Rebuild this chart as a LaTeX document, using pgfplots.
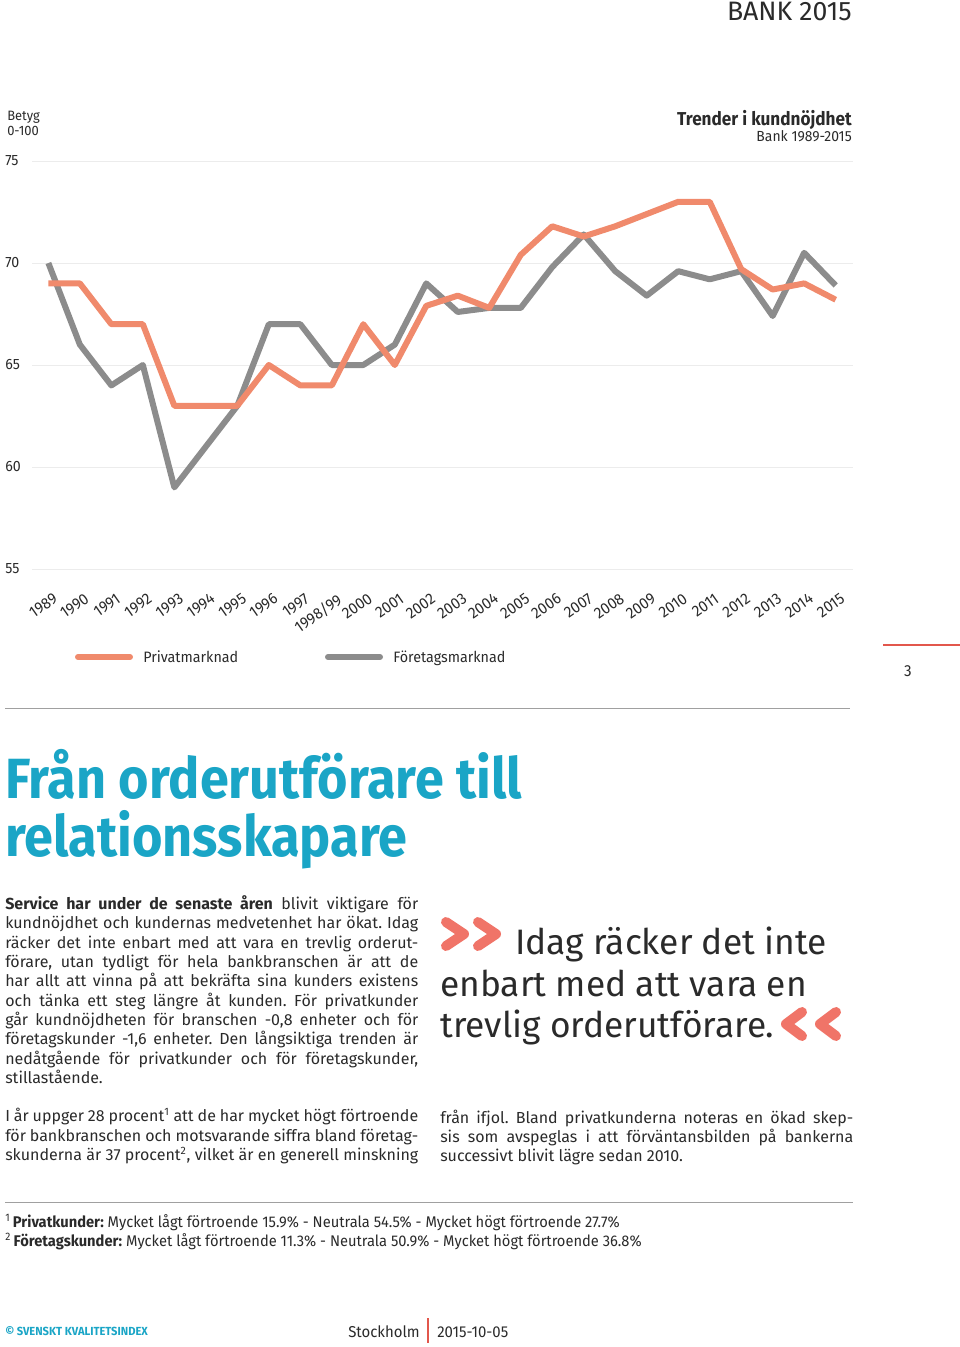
\documentclass[border=0pt]{standalone}
\usepackage{fontspec}
\setmainfont{Fira Sans}[FakeStretch=0.95]
\newfontfamily\plainfont{Fira Sans}
\newfontfamily\titlefont[FakeStretch=0.92]{Fira Sans}
\usepackage{graphicx}
\usepackage{pgfplots}
\pgfplotsset{compat=1.18}
\definecolor{orangeline}{HTML}{F08A6C}
\definecolor{grayline}{HTML}{8C8C8C}
\definecolor{tealc}{HTML}{1AA5C6}
\definecolor{chev}{HTML}{F07468}
\definecolor{txt}{HTML}{2A2A2A}
\definecolor{gridc}{HTML}{ECECEC}
\definecolor{redline}{HTML}{E2574C}
\definecolor{sepc}{HTML}{A0A0A0}
\frenchspacing
\newcommand\bodyfont{\plainfont\fontsize{12}{14.5}\selectfont}
\newcommand\lline[2]{\node[anchor=base west,inner sep=0pt,text=txt,font=\bodyfont] at (5,#1) {\makebox[309.75pt][s]{#2}};}
\newcommand\rline[2]{\node[anchor=base west,inner sep=0pt,text=txt,font=\bodyfont] at (440,#1) {\makebox[309.75pt][s]{#2}};}
\begin{document}
\begin{tikzpicture}
\path[use as bounding box] (0,0) rectangle (720pt,-1010.25pt);
\begin{axis}[
  at={(24pt,-426.75pt)}, anchor=south west,
  scale only axis, width=615.75pt, height=306pt,
  xmin=-0.52, xmax=25.55, ymin=55, ymax=75,
  axis line style={draw=none},
  major tick length=0pt,
  ytick={55,60,65,70,75},
  yticklabels={55,60,65,70,75},
  ymajorgrids, grid style={gridc, line width=0.75pt},
  xtick={0,...,25},
  xticklabels={1989,1990,1991,1992,1993,1994,1995,1996,1997,1998/99,2000,2001,2002,2003,2004,2005,2006,2007,2008,2009,2010,2011,2012,2013,2014,2015},
  /pgf/number format/assume math mode=true,
  yticklabel style={anchor=west, inner sep=0pt, xshift=-20.25pt, font=\fontsize{11.2}{11.2}\selectfont, text=txt},
  xticklabel style={rotate=35, anchor=north east, inner sep=0pt, xshift=-7.5pt, yshift=-16pt, font=\fontsize{11.8}{11.8}\selectfont, text=txt},
]
\addplot[grayline, line width=4.5pt, line join=round] coordinates {
(0,70.0) (1,66.0) (2,64.0) (3,65.0) (4,59.0) (5,61.0) (6,63.0) (7,67.0) (8,67.0) (9,65.0)
(10,65.0) (11,66.0) (12,69.0) (13,67.6) (14,67.8) (15,67.8) (16,69.8) (17,71.4) (18,69.6)
(19,68.4) (20,69.6) (21,69.2) (22,69.6) (23,67.4) (24,70.5) (25,68.9)};
\addplot[orangeline, line width=4.5pt, line join=round] coordinates {
(0,69.0) (1,69.0) (2,67.0) (3,67.0) (4,63.0) (5,63.0) (6,63.0) (7,65.0) (8,64.0) (9,64.0)
(10,67.0) (11,65.0) (12,67.9) (13,68.4) (14,67.8) (15,70.4) (16,71.8) (17,71.3) (18,71.8)
(19,72.4) (20,73.0) (21,73.0) (22,69.7) (23,68.7) (24,69.0) (25,68.2)};
\end{axis}
\begin{scope}[x=0.75pt,y=-0.75pt]
% header
\node[anchor=base east,inner sep=0pt,text=txt,font=\plainfont\fontsize{20}{20}\selectfont] at (852,20.7) {BANK 2015};
\node[anchor=base west,inner sep=0pt,text=txt,font=\fontsize{10.2}{10.2}\selectfont] at (7,120.7) {Betyg};
\node[anchor=base west,inner sep=0pt,text=txt,font=\fontsize{10.2}{10.2}\selectfont] at (7,135) {0-100};
\node[anchor=base east,inner sep=0pt,text=txt,font=\titlefont\bfseries\fontsize{14}{14}\selectfont] at (852,125) {Trender i kundnöjdhet};
\node[anchor=base east,inner sep=0pt,text=txt,font=\fontsize{11}{11}\selectfont] at (852,141.7) {Bank 1989-2015};
% legend
\draw[orangeline,line width=4.5pt,line cap=round] (78,657) -- (130,657);
\node[anchor=base west,inner sep=0pt,text=txt,font=\fontsize{11.3}{11.3}\selectfont] at (143,662) {Privatmarknad};
\draw[grayline,line width=4.5pt,line cap=round] (328,657) -- (380,657);
\node[anchor=base west,inner sep=0pt,text=txt,font=\fontsize{11.3}{11.3}\selectfont] at (393,662) {Företagsmarknad};
% page number
\draw[redline,line width=1.5pt] (883,645) -- (960,645);
\node[anchor=base,inner sep=0pt,text=txt,font=\fontsize{12}{12}\selectfont] at (908,676.7) {3};
\draw[sepc,line width=0.75pt] (5,708) -- (850,708);
% title
\node[anchor=base west,inner sep=0pt,text=tealc] at (5,798.5) {\resizebox{387.75pt}{!}{\titlefont\bfseries\fontsize{45}{45}\selectfont Från orderutförare till}};
\node[anchor=base west,inner sep=0pt,text=tealc] at (5,856.5) {\resizebox{301.5pt}{!}{\titlefont\bfseries\fontsize{45}{45}\selectfont relationsskapare}};
% body left
\lline{909.3}{\textbf{Service har under de senaste åren} blivit viktigare för}
\lline{928.6}{kundnöjdhet och kundernas medvetenhet har ökat. Idag}
\lline{948.0}{räcker det inte enbart med att vara en trevlig orderut-}
\lline{967.3}{förare, utan tydligt för hela bankbranschen är att de}
\lline{986.6}{har allt att vinna på att bekräfta sina kunders existens}
\lline{1006.0}{och tänka ett steg längre åt kunden. För privatkunder}
\lline{1025.3}{går kundnöjdheten för branschen -0,8 enheter och för}
\lline{1044.6}{företagskunder -1,6 enheter. Den långsiktiga trenden är}
\lline{1064.0}{nedåtgående för privatkunder och för företagskunder,}
\node[anchor=base west,inner sep=0pt,text=txt,font=\bodyfont] at (5,1083.3) {stillastående.};
\lline{1121.7}{I år uppger 28 procent\textsuperscript{1} att de har mycket högt förtroende}
\lline{1141.0}{för bankbranschen och motsvarande siffra bland företag-}
\lline{1160.3}{skunderna är 37 procent\textsuperscript{2}, vilket är en generell minskning}
% body right
\rline{1123.0}{från ifjol. Bland privatkunderna noteras en ökad skep-}
\rline{1142.3}{sis som avspeglas i att förväntansbilden på bankerna}
\node[anchor=base west,inner sep=0pt,text=txt,font=\bodyfont] at (440,1161.6) {successivt blivit lägre sedan 2010.};
% quote
\draw[chev,line width=7.5pt,line cap=round,line join=round] (446,922) -- (464,934) -- (446,946);
\draw[chev,line width=7.5pt,line cap=round,line join=round] (478,922) -- (496,934) -- (478,946);
\node[anchor=base west,inner sep=0pt,text=txt,font=\plainfont\fontsize{26.5}{30}\selectfont] at (515,954) {Idag räcker det inte};
\node[anchor=base west,inner sep=0pt,text=txt,font=\plainfont\fontsize{26.5}{30}\selectfont] at (440,996) {enbart med att vara en};
\node[anchor=base west,inner sep=0pt,text=txt,font=\plainfont\fontsize{26.5}{30}\selectfont] at (440,1037.7) {trevlig orderutförare.};
\draw[chev,line width=7.5pt,line cap=round,line join=round] (802,1012) -- (786,1024) -- (802,1036);
\draw[chev,line width=7.5pt,line cap=round,line join=round] (836,1012) -- (820,1024) -- (836,1036);
% footnotes
\draw[sepc,line width=0.75pt] (5,1202) -- (853,1202);
\node[anchor=base west,inner sep=0pt,text=txt,font=\fontsize{11.6}{11.6}\selectfont] at (5,1227) {\textsuperscript{1}\,\textbf{Privatkunder:} Mycket lågt förtroende 15.9\% - Neutrala 54.5\% - Mycket högt förtroende 27.7\%};
\node[anchor=base west,inner sep=0pt,text=txt,font=\fontsize{11.6}{11.6}\selectfont] at (5,1246) {\textsuperscript{2}\,\textbf{Företagskunder:} Mycket lågt förtroende 11.3\% - Neutrala 50.9\% - Mycket högt förtroende 36.8\%};
% footer
\node[anchor=base west,inner sep=0pt,text=tealc,font=\bfseries\fontsize{8.8}{8.8}\selectfont] at (5,1335.5) {© SVENSKT KVALITETSINDEX};
\node[anchor=base west,inner sep=0pt,text=txt,font=\fontsize{11.8}{11.8}\selectfont] at (348,1337) {Stockholm};
\draw[redline,line width=1.2pt] (428,1318) -- (428,1343);
\node[anchor=base west,inner sep=0pt,text=txt,font=\fontsize{11.8}{11.8}\selectfont] at (437,1337) {2015-10-05};
\end{scope}
\end{tikzpicture}
\end{document}
